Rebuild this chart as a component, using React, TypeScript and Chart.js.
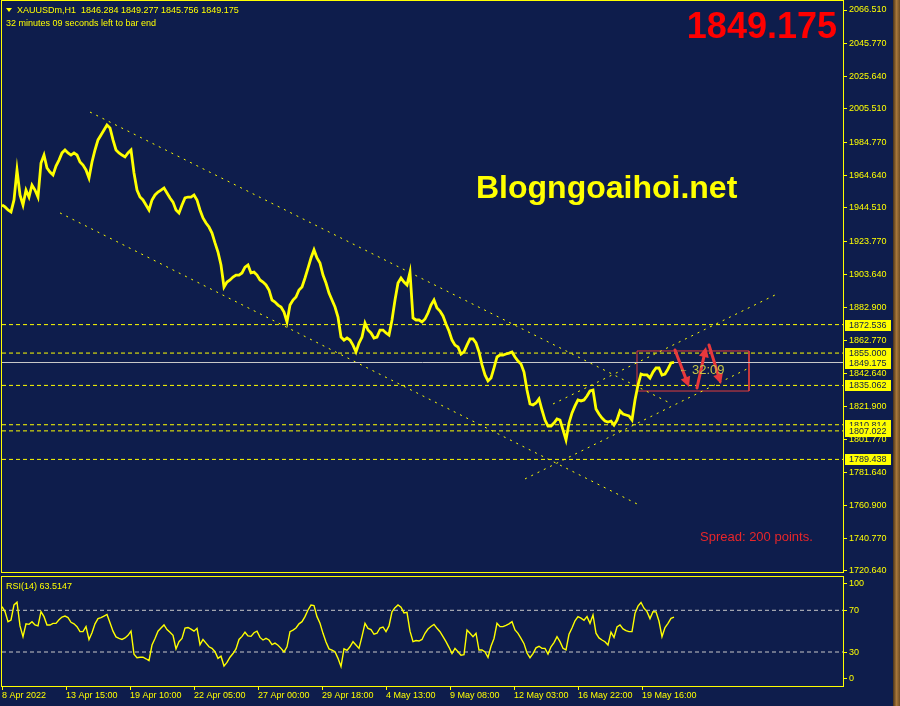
import React, { useEffect, useRef } from "react";
import { Chart, registerables } from "chart.js";

Chart.register(...registerables);

const BG = "#0e1d4c";
const YELLOW = "#ffff00";
const RED = "#e8383c";
const FONT = "'Liberation Sans', Arial, sans-serif";

// one sample every 3 H1 bars, bar index = i * BAR_STEP
const BAR_STEP = 3;
const X_MAX = 841;

const priceClose = [
  1946.3, 1945.1, 1943.2, 1942.0, 1949.4, 1967.9, 1952.5, 1946.3, 1955.5, 1951.2,
  1958.6, 1955.5, 1951.2, 1972.2, 1977.1, 1969.1, 1966.6, 1964.8, 1970.3, 1974.0,
  1978.4, 1980.2, 1978.4, 1977.1, 1978.4, 1977.1, 1972.8, 1970.9, 1967.9, 1962.9,
  1972.8, 1980.2, 1986.4, 1989.4, 1992.5, 1995.6, 1993.8, 1986.4, 1980.2, 1978.4,
  1977.1, 1975.9, 1978.4, 1980.2, 1966.0, 1955.5, 1951.2, 1949.4, 1946.3, 1943.2,
  1949.4, 1952.5, 1954.3, 1955.5, 1956.8, 1953.7, 1950.6, 1948.1, 1943.2, 1941.4,
  1946.3, 1950.6, 1951.2, 1951.2, 1952.5, 1949.4, 1943.2, 1938.3, 1935.2, 1932.7,
  1929.0, 1922.9, 1917.3, 1909.3, 1895.7, 1898.8, 1900.1, 1901.9, 1903.1, 1903.1,
  1904.4, 1908.0, 1909.3, 1904.4, 1904.9, 1903.1, 1900.1, 1898.8, 1897.0, 1893.9,
  1887.7, 1886.5, 1884.6, 1883.4, 1880.3, 1874.2, 1884.6, 1887.7, 1889.6, 1893.9,
  1895.7, 1901.3, 1907.4, 1913.6, 1918.6, 1913.6, 1910.5, 1903.1, 1898.2, 1892.0,
  1887.7, 1883.4, 1877.2, 1864.9, 1863.0, 1864.3, 1863.0, 1859.9, 1855.7, 1861.2,
  1864.9, 1873.5, 1869.2, 1867.4, 1864.3, 1864.9, 1869.2, 1869.2, 1867.4, 1866.1,
  1875.4, 1887.7, 1898.2, 1901.3, 1898.8, 1897.0, 1904.9, 1876.6, 1875.4, 1875.4,
  1874.2, 1876.0, 1879.7, 1884.6, 1887.7, 1882.8, 1880.9, 1877.9, 1872.9, 1868.6,
  1863.0, 1859.9, 1858.7, 1854.4, 1855.7, 1859.9, 1863.7, 1863.7, 1861.2, 1855.7,
  1847.7, 1841.5, 1837.8, 1839.6, 1845.8, 1852.6, 1853.8, 1853.8, 1854.4, 1855.0,
  1855.7, 1852.6, 1850.1, 1848.3, 1843.3, 1832.2, 1823.6, 1823.0, 1824.2, 1826.7,
  1819.9, 1813.7, 1810.0, 1810.0, 1811.9, 1814.4, 1813.7, 1807.6, 1801.4, 1811.9,
  1818.1, 1822.4, 1826.1, 1825.5, 1826.1, 1828.5, 1831.6, 1832.2, 1820.5, 1817.4,
  1814.9, 1813.1, 1812.5, 1813.1, 1810.7, 1813.7, 1819.3, 1817.4, 1816.8, 1816.2,
  1813.7, 1826.1, 1835.3, 1842.1, 1841.5, 1841.5, 1839.6, 1843.3, 1845.8, 1845.8,
  1841.5, 1842.1, 1845.2, 1848.9, 1849.2,
];

const rsiValues = [
  73.5, 68.7, 59.1, 60.7, 75.1, 77.7, 55.0, 44.7, 57.0, 56.5,
  59.0, 55.9, 55.0, 68.7, 63.9, 55.9, 55.9, 57.5, 57.5, 61.0,
  63.5, 64.5, 63.0, 58.5, 57.0, 54.3, 49.5, 49.5, 54.3, 42.0,
  48.5, 57.0, 62.0, 63.0, 64.5, 66.0, 58.0, 50.0, 44.5, 43.0,
  42.0, 43.5, 46.0, 50.0, 28.0, 24.5, 25.0, 25.0, 23.5, 21.7,
  36.7, 43.0, 50.0, 53.0, 56.0, 51.5, 49.0, 46.0, 33.0, 39.9,
  43.1, 53.0, 53.5, 52.0, 50.0, 52.7, 37.0, 42.0, 38.5, 35.0,
  33.5, 30.3, 23.9, 26.0, 16.5, 20.0, 25.0, 28.5, 33.0, 42.0,
  45.0, 49.0, 45.5, 45.0, 48.5, 50.0, 44.0, 41.5, 43.1, 41.5,
  37.0, 38.5, 36.5, 33.5, 30.0, 35.0, 49.5, 51.0, 53.0, 57.0,
  59.1, 63.9, 70.3, 75.0, 74.5, 63.9, 57.5, 47.9, 39.5, 33.0,
  31.9, 30.3, 23.9, 16.0, 33.0, 31.5, 35.0, 39.9, 36.7, 33.5,
  45.0, 57.5, 52.7, 51.5, 47.0, 48.0, 53.0, 54.0, 49.5, 55.0,
  68.5, 72.5, 75.1, 73.0, 67.5, 68.0, 50.0, 39.9, 41.0, 40.5,
  42.0, 48.0, 52.0, 54.5, 56.5, 52.7, 49.5, 44.7, 40.0, 34.5,
  28.5, 33.5, 30.3, 27.0, 27.5, 51.1, 47.9, 44.7, 48.0, 31.9,
  31.9, 30.0, 24.9, 35.5, 43.0, 57.5, 54.3, 54.3, 55.5, 57.0,
  59.1, 51.1, 47.9, 43.0, 38.0, 29.0, 24.5, 28.5, 34.0, 35.5,
  33.5, 33.5, 28.0, 35.0, 39.0, 44.7, 39.9, 33.5, 32.0, 47.0,
  53.0, 60.0, 63.9, 62.5, 60.5, 63.9, 57.5, 65.5, 48.0, 43.5,
  41.5, 39.9, 36.7, 49.0, 44.0, 54.0, 56.0, 52.2, 50.5, 49.5,
  49.5, 67.1, 74.0, 77.5, 72.0, 68.7, 62.0, 68.7, 68.5, 59.5,
  44.7, 53.5, 57.5, 62.3, 63.5,
];

const priceTicks = [
  2066.51, 2045.77, 2025.64, 2005.51, 1984.77, 1964.64, 1944.51, 1923.77, 1903.64,
  1882.9, 1862.77, 1842.64, 1821.9, 1801.77, 1781.64, 1760.9, 1740.77, 1720.64,
];
const timeTickBars = [0, 64, 128, 192, 256, 320, 384, 448, 512, 576, 640];
const timeTickLabels = [
  "8 Apr 2022", "13 Apr 15:00", "19 Apr 10:00", "22 Apr 05:00", "27 Apr 00:00",
  "29 Apr 18:00", "4 May 13:00", "9 May 08:00", "12 May 03:00", "16 May 22:00", "19 May 16:00",
];

const levelPrices = [1872.536, 1855.0, 1835.062, 1810.814, 1807.022, 1789.438];
const bidPrice = 1849.175;
const labelledPrices = [1872.536, 1855.0, 1849.175, 1835.062, 1810.814, 1807.022, 1789.438];

const channelFromBar = [88, 58, 523, 551];
const channelFromPrice = [2003.6, 1941.4, 1777.4, 1823.6];
const channelToBar = [666, 635, 745, 775];
const channelToPrice = [1824.8, 1762.0, 1845.2, 1891.4];

const boxBars = [635, 747];
const boxPrices = [1856.3, 1831.6];

const arrowFromBar = [673, 695, 707];
const arrowFromPrice = [1856.9, 1833.5, 1860.0];
const arrowToBar = [687, 704, 719];
const arrowToPrice = [1834.1, 1858.7, 1835.9];

const rsiLevels = [70, 30];
const rsiAxisTicks = [100, 70, 30, 0];

const span = (y: number) => [{ x: 0, y }, { x: X_MAX, y }];

function drawStrip(ctx: CanvasRenderingContext2D, h: number) {
  const g = ctx.createLinearGradient(893, 0, 900, 0);
  g.addColorStop(0, "#4a3218");
  g.addColorStop(0.5, "#a8773a");
  g.addColorStop(1, "#6e4c24");
  ctx.fillStyle = g;
  ctx.fillRect(893, 0, 7, h);
}

function drawArrow(ctx: CanvasRenderingContext2D, x1: number, y1: number, x2: number, y2: number) {
  const ang = Math.atan2(y2 - y1, x2 - x1);
  const hl = 10;
  const hw = 5;
  const bx = x2 - hl * Math.cos(ang);
  const by = y2 - hl * Math.sin(ang);
  ctx.beginPath();
  ctx.moveTo(x1, y1);
  ctx.lineTo(bx, by);
  ctx.stroke();
  ctx.beginPath();
  ctx.moveTo(x2, y2);
  ctx.lineTo(bx + hw * Math.sin(ang), by - hw * Math.cos(ang));
  ctx.lineTo(bx - hw * Math.sin(ang), by + hw * Math.cos(ang));
  ctx.closePath();
  ctx.fill();
}

const mainPlugin = {
  id: "mainOverlay",
  beforeDraw(chart: any) {
    const { ctx, width, height } = chart;
    ctx.save();
    ctx.fillStyle = BG;
    ctx.fillRect(0, 0, width, height);
    ctx.restore();
  },
  afterDraw(chart: any) {
    const { ctx, height } = chart;
    const xs = chart.scales.x;
    const ys = chart.scales.y;
    ctx.save();
    // frame
    ctx.strokeStyle = YELLOW;
    ctx.lineWidth = 1;
    ctx.strokeRect(1.5, 0.5, 842, 572);

    // arrows
    ctx.strokeStyle = RED;
    ctx.fillStyle = RED;
    ctx.lineWidth = 3;
    ctx.lineCap = "round";
    for (let i = 0; i < arrowFromBar.length; i++) {
      drawArrow(
        ctx,
        xs.getPixelForValue(arrowFromBar[i]),
        ys.getPixelForValue(arrowFromPrice[i]),
        xs.getPixelForValue(arrowToBar[i]),
        ys.getPixelForValue(arrowToPrice[i])
      );
    }

    // timer text
    ctx.font = `13px ${FONT}`;
    ctx.textBaseline = "alphabetic";
    ctx.textAlign = "left";
    ctx.fillStyle = "#c5c547";
    ctx.fillText("32:09", 692, 374);
    ctx.font = `9px ${FONT}`;
    ctx.fillText("\u2190", 679, 372);

    // highlighted price labels
    ctx.font = `9px ${FONT}`;
    ctx.textBaseline = "middle";
    for (const p of labelledPrices) {
      const py = Math.round(ys.getPixelForValue(p));
      ctx.fillStyle = YELLOW;
      ctx.fillRect(845, py - 5, 46, 11);
      ctx.fillStyle = BG;
      ctx.fillText(p.toFixed(3), 849, py + 0.5);
    }

    // header texts
    ctx.fillStyle = YELLOW;
    ctx.beginPath();
    ctx.moveTo(6, 8);
    ctx.lineTo(12, 8);
    ctx.lineTo(9, 12);
    ctx.closePath();
    ctx.fill();
    ctx.textBaseline = "alphabetic";
    ctx.font = `9px ${FONT}`;
    ctx.fillText("XAUUSDm,H1  1846.284 1849.277 1845.756 1849.175", 17, 13);
    ctx.fillText("32 minutes 09 seconds left to bar end", 6, 26);

    // big price
    ctx.fillStyle = "#ff0000";
    ctx.font = `bold 36px ${FONT}`;
    ctx.textAlign = "right";
    ctx.fillText("1849.175", 837, 38);

    // watermark
    ctx.textAlign = "left";
    ctx.fillStyle = YELLOW;
    ctx.font = `bold 32px ${FONT}`;
    ctx.fillText("Blogngoaihoi.net", 476, 198);

    // spread
    ctx.fillStyle = "#e8262a";
    ctx.font = `13px ${FONT}`;
    ctx.fillText("Spread: 200 points.", 700, 541);

    drawStrip(ctx, height);
    ctx.restore();
  },
};

const rsiPlugin = {
  id: "rsiOverlay",
  beforeDraw(chart: any) {
    const { ctx, width, height } = chart;
    ctx.save();
    ctx.fillStyle = BG;
    ctx.fillRect(0, 0, width, height);
    ctx.restore();
  },
  afterDraw(chart: any) {
    const { ctx, height, chartArea } = chart;
    const ys = chart.scales.y;
    ctx.save();
    ctx.strokeStyle = YELLOW;
    ctx.lineWidth = 1;
    ctx.strokeRect(1.5, 2.5, 842, 110);
    ctx.font = `9px ${FONT}`;
    ctx.textBaseline = "middle";
    ctx.textAlign = "left";
    ctx.fillStyle = YELLOW;
    for (const v of rsiAxisTicks) {
      let py = ys.getPixelForValue(v);
      py = Math.round(Math.min(Math.max(py, chartArea.top + 6), chartArea.bottom - 8));
      ctx.beginPath();
      ctx.moveTo(843, py + 0.5);
      ctx.lineTo(847, py + 0.5);
      ctx.stroke();
      ctx.fillText(String(v), 849, py + 0.5);
    }
    ctx.textBaseline = "alphabetic";
    ctx.fillText("RSI(14) 63.5147", 6, 15);
    drawStrip(ctx, height);
    ctx.restore();
  },
};

export default function App() {
  const mainRef = useRef<HTMLCanvasElement>(null);
  const rsiRef = useRef<HTMLCanvasElement>(null);

  useEffect(() => {
    const lineBase = { pointRadius: 0, tension: 0, fill: false };
    const mainDatasets: any[] = [
      {
        ...lineBase,
        label: "XAUUSDm",
        data: priceClose.map((v, i) => ({ x: i * BAR_STEP, y: v })),
        borderColor: YELLOW,
        borderWidth: 2.8,
        borderJoinStyle: "miter",
      },
      ...levelPrices.map((p) => ({
        ...lineBase,
        data: span(p),
        borderColor: YELLOW,
        borderWidth: 1,
        borderDash: [4, 3],
      })),
      { ...lineBase, data: span(bidPrice), borderColor: "#c8c8c8", borderWidth: 1 },
      ...channelFromBar.map((b, i) => ({
        ...lineBase,
        data: [
          { x: b, y: channelFromPrice[i] },
          { x: channelToBar[i], y: channelToPrice[i] },
        ],
        borderColor: YELLOW,
        borderWidth: 1,
        borderDash: [2, 5],
      })),
      {
        ...lineBase,
        data: [
          { x: boxBars[0], y: boxPrices[0] },
          { x: boxBars[1], y: boxPrices[0] },
          { x: boxBars[1], y: boxPrices[1] },
          { x: boxBars[0], y: boxPrices[1] },
          { x: boxBars[0], y: boxPrices[0] },
        ],
        borderColor: "#e03c3c",
        borderWidth: 1,
      },
    ];

    const main = new Chart(mainRef.current as HTMLCanvasElement, {
      type: "line",
      data: { datasets: mainDatasets },
      plugins: [mainPlugin],
      options: {
        animation: false,
        responsive: false,
        devicePixelRatio: 1,
        layout: { padding: { left: 2, top: 1, right: 0, bottom: 2 } },
        plugins: { legend: { display: false }, tooltip: { enabled: false } },
        scales: {
          x: { type: "linear", min: 0, max: X_MAX, display: false },
          y: {
            type: "linear",
            position: "right",
            min: 1720.02,
            max: 2072.06,
            afterBuildTicks: (s: any) => {
              s.ticks = priceTicks.map((v) => ({ value: v }));
            },
            afterFit: (s: any) => {
              s.width = 57;
              s.paddingTop = 0;
              s.paddingBottom = 0;
            },
            grid: { drawOnChartArea: false, drawTicks: true, tickLength: 4, color: YELLOW, lineWidth: 1 },
            border: { display: false },
            ticks: {
              color: YELLOW,
              font: { family: FONT, size: 9 },
              padding: 2,
              autoSkip: false,
              callback: (v: any) => Number(v).toFixed(3),
            },
          },
        },
      } as any,
    });

    const rsi = new Chart(rsiRef.current as HTMLCanvasElement, {
      type: "line",
      data: {
        datasets: [
          {
            ...lineBase,
            label: "RSI(14)",
            data: rsiValues.map((v, i) => ({ x: i * BAR_STEP, y: v })),
            borderColor: YELLOW,
            borderWidth: 1.4,
          },
          ...rsiLevels.map((l) => ({
            ...lineBase,
            data: span(l),
            borderColor: "#c8c8c8",
            borderWidth: 1,
            borderDash: [4, 3],
          })),
        ] as any,
      },
      plugins: [rsiPlugin],
      options: {
        animation: false,
        responsive: false,
        devicePixelRatio: 1,
        layout: { padding: { left: 2, top: 3, right: 0, bottom: 0 } },
        plugins: { legend: { display: false }, tooltip: { enabled: false } },
        scales: {
          x: {
            type: "linear",
            min: 0,
            max: X_MAX,
            position: "bottom",
            afterBuildTicks: (s: any) => {
              s.ticks = timeTickBars.map((v) => ({ value: v }));
            },
            afterFit: (s: any) => {
              s.height = 20;
              s.paddingLeft = 0;
              s.paddingRight = 0;
            },
            grid: { drawOnChartArea: false, drawTicks: true, tickLength: 4, color: YELLOW },
            border: { display: false },
            ticks: {
              color: YELLOW,
              font: { family: FONT, size: 9 },
              padding: 0,
              align: "start",
              autoSkip: false,
              maxRotation: 0,
              minRotation: 0,
              callback: (v: any) => {
                const k = timeTickBars.indexOf(Number(v));
                return k >= 0 ? timeTickLabels[k] : "";
              },
            },
          },
          y: {
            type: "linear",
            position: "right",
            min: -2.61,
            max: 101.94,
            afterFit: (s: any) => {
              s.width = 57;
              s.paddingTop = 0;
              s.paddingBottom = 0;
            },
            grid: { display: false },
            border: { display: false },
            ticks: { display: false },
          },
        },
      } as any,
    });

    return () => {
      main.destroy();
      rsi.destroy();
    };
  }, []);

  return (
    <div
      style={{
        position: "fixed",
        left: 0,
        top: 0,
        width: 900,
        height: 706,
        background: BG,
        overflow: "hidden",
      }}
    >
      <canvas
        ref={mainRef}
        width={900}
        height={574}
        style={{ position: "absolute", left: 0, top: 0, width: 900, height: 574 }}
      />
      <canvas
        ref={rsiRef}
        width={900}
        height={132}
        style={{ position: "absolute", left: 0, top: 574, width: 900, height: 132 }}
      />
    </div>
  );
}
